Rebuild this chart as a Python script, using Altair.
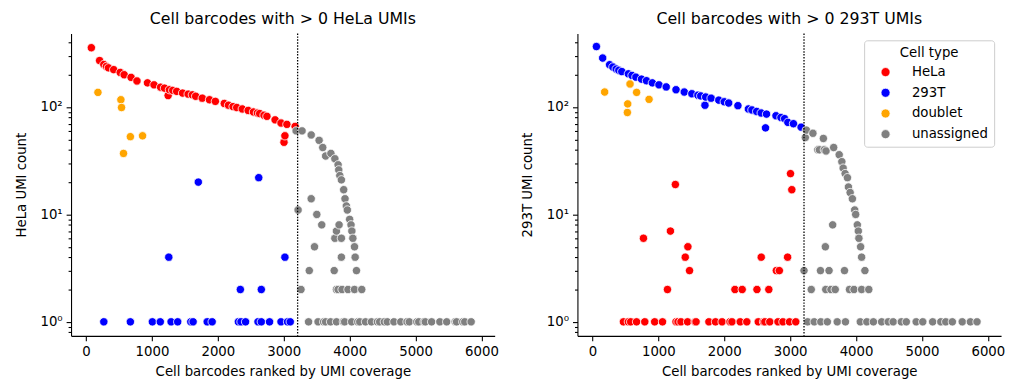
import altair as alt
import pandas as pd

CATS = ["HeLa", "293T", "doublet", "unassigned"]
COLORS = ["#ff0000", "#0000ff", "#ffa500", "#808080"]
X_TICKS = [0, 1000, 2000, 3000, 4000, 5000, 6000]
Y_TICKS = [0.8, 0.9, 1, 2, 3, 4, 5, 6, 7, 8, 9, 10, 20, 30, 40, 50, 60, 70, 80, 90,
           100, 200, 300, 400]
SPLIT_RANK = 3210

# ---------------- Panel 1: HeLa UMIs ----------------
p1_hela_rank = [80, 205, 269, 309, 340, 419, 518, 578, 683, 772, 932, 1031, 1131, 1190,
                1245, 1265, 1315, 1375, 1464, 1549, 1613, 1663, 1763, 1873, 1962, 2097,
                2161, 2230, 2286, 2370, 2460, 2540, 2600, 2634, 2700, 2744, 2868, 2958,
                3003, 3017, 3047, 3172]
p1_hela_umi = [357, 271, 249, 239, 232, 223, 210, 200, 189, 175, 168, 161, 153, 150,
               128, 145, 143, 140, 135, 132, 130, 126, 121, 117, 113, 108,
               104, 101, 99, 96, 93, 90, 88, 87, 84, 82, 76, 71,
               47, 54, 69, 66]

p1_293t_rank = [1255, 1703, 2341, 2620, 2659, 3017]
p1_293t_umi = [4, 20, 2, 22, 2, 4]
p1_293t_rank_one = [269, 672, 1006, 1126, 1290, 1390, 1589, 1624, 1838, 1913, 2311, 2351,
                    2420, 2609, 2659, 2784, 2958, 3057, 3098]

p1_doublet_rank = [180, 528, 538, 568, 672, 857]
p1_doublet_umi = [137, 117, 99, 37, 53, 54]

p1_unas_rank = [3187, 3277, 3416, 3536, 3591, 3635, 3715, 3775, 3824, 3834, 3850, 3874,
                3909, 3929, 3949, 3964, 3999, 4020, 4033, 4048, 4073, 4083, 4103,
                3217, 3416, 3501, 3576, 3466, 3387, 3765, 3839, 3799, 3775, 3874, 3874,
                3261, 3799, 3824, 3884, 3974, 4073, 4183]
p1_unas_umi = [60, 60, 55, 49, 42, 35, 37, 33, 29, 26, 23, 21,
               17, 14, 12, 11, 9, 8, 7, 6, 5, 4, 3,
               11, 14, 10, 8, 5, 3, 3, 8, 7, 6, 6, 4,
               2, 2, 2, 2, 2, 2, 2]
p1_unas_rank_one = [3376, 3520, 3605, 3635, 3710, 3800, 3904, 3924, 4030, 4123, 4153, 4240,
                    4330, 4421, 4455, 4526, 4571, 4671, 4775, 4870, 4905, 5019, 5048, 5129,
                    5148, 5243, 5368, 5472, 5601, 5622, 5716, 5746, 5843]

# ---------------- Panel 2: 293T UMIs ----------------
p2_293t_rank = [60, 155, 260, 310, 360, 400, 445, 545, 600, 659, 744, 820, 909, 1009,
                1119, 1268, 1393, 1508, 1600, 1643, 1707, 1718, 1800, 1917, 2000, 2067,
                2207, 2366, 2420, 2492, 2560, 2626, 2641, 2785, 2860, 2916, 2965, 3050,
                3166]
p2_293t_umi = [366, 286, 248, 236, 226, 220, 214, 204, 197, 190, 182, 176, 168, 161,
               154, 145, 138, 133, 129, 127, 104, 124, 121, 116, 112, 109,
               103, 96, 94, 91, 88, 64, 86, 83, 80, 78, 72, 70,
               65]

p2_doublet_rank = [185, 530, 535, 570, 670, 859]
p2_doublet_umi = [138, 89, 107, 164, 137, 118]

p2_hela_rank = [774, 1138, 1183, 1258, 1408, 1448, 1473, 2162, 2272, 2496, 2561, 2676,
                2790, 2836, 2961, 3005, 3025]
p2_hela_umi = [6, 2, 7, 19, 4, 5, 3, 2, 2, 2, 4, 2,
               3, 3, 4, 24, 17]
p2_hela_rank_one = [470, 545, 580, 669, 794, 944, 1063, 1268, 1298, 1343, 1443, 1557,
                    1572, 1767, 1867, 1967, 2087, 2117, 2242, 2342, 2516, 2596, 2616,
                    2691, 2815, 2890, 2990, 3085]

p2_unas_rank = [3230, 3245, 3345, 3420, 3444, 3504, 3519, 3544, 3660, 3744, 3784, 3804,
                3834, 3869, 3884, 3910, 3944, 3979, 3994, 4019, 4034, 4043, 4069, 4084,
                4134, 3645, 3534,
                3210, 3460, 3590, 3824,
                3320, 3540, 3619, 3684, 3900, 3969, 4084, 4193]
p2_unas_umi = [52, 61, 57, 40, 40, 51, 40, 39, 42, 36, 31, 27,
               24, 22, 18, 16, 14, 11, 10, 8, 7, 6, 5, 4,
               3, 8, 5,
               3, 3, 3, 3,
               2, 2, 2, 2, 2, 2, 2, 2]
p2_unas_rank_one = [3265, 3365, 3465, 3564, 3714, 3839, 4064, 4163, 4263, 4388, 4488,
                    4563, 4687, 4762, 4912, 5012, 5162, 5286, 5361, 5461, 5611, 5735, 5835]


def frame(groups):
    rows = []
    for cat, ranks, umis in groups:
        for r, u in zip(ranks, umis):
            rows.append({"rank": r, "umi": u, "type": cat})
    return pd.DataFrame(rows).sort_values("rank", kind="stable").reset_index(drop=True)


df1 = frame([
    ("HeLa", p1_hela_rank, p1_hela_umi),
    ("293T", p1_293t_rank, p1_293t_umi),
    ("293T", p1_293t_rank_one, [1] * len(p1_293t_rank_one)),
    ("doublet", p1_doublet_rank, p1_doublet_umi),
    ("unassigned", p1_unas_rank, p1_unas_umi),
    ("unassigned", p1_unas_rank_one, [1] * len(p1_unas_rank_one)),
])
df2 = frame([
    ("293T", p2_293t_rank, p2_293t_umi),
    ("HeLa", p2_hela_rank, p2_hela_umi),
    ("HeLa", p2_hela_rank_one, [1] * len(p2_hela_rank_one)),
    ("doublet", p2_doublet_rank, p2_doublet_umi),
    ("unassigned", p2_unas_rank, p2_unas_umi),
    ("unassigned", p2_unas_rank_one, [1] * len(p2_unas_rank_one)),
])

FONT = "DejaVu Sans"
MAJOR = "datum.value == 1 || datum.value == 10 || datum.value == 100"


def panel(df, title, ytitle, show_legend):
    if show_legend:
        legend = alt.Legend(
            title="Cell type", orient="none", legendX=291, legendY=7,
            direction="vertical",
            titleFontSize=13.5, titleFontWeight="normal", titleFont=FONT,
            titleColor="black", titleAnchor="middle", titleAlign="center",
            titlePadding=6, labelFontSize=13.5, labelFont=FONT, labelColor="black",
            labelOffset=20, rowPadding=6, symbolType="circle", symbolSize=85,
            symbolStrokeColor="white", symbolStrokeWidth=0.8, symbolOpacity=1,
            symbolOffset=9, padding=6, strokeColor="#cccccc", fillColor="white",
            cornerRadius=3,
        )
    else:
        legend = None
    pts = alt.Chart(df).mark_circle(
        size=72, opacity=1, stroke="white", strokeWidth=0.8
    ).encode(
        x=alt.X("rank:Q",
                scale=alt.Scale(domain=[-228, 6200], nice=False, zero=False),
                axis=alt.Axis(values=X_TICKS, title="Cell barcodes ranked by UMI coverage",
                              grid=False, labelFlush=False, format="d", titlePadding=7)),
        y=alt.Y("umi:Q",
                scale=alt.Scale(type="log", domain=[0.74, 485], nice=False),
                axis=alt.Axis(values=Y_TICKS, title=ytitle, grid=False,
                              labelOverlap=False, labelPadding=4, titlePadding=12,
                              labelExpr="datum.value == 1 ? '10⁰' : datum.value == 10 ? '10¹' : datum.value == 100 ? '10²' : ''",
                              tickSize={"condition": {"test": MAJOR, "value": 5}, "value": 3})),
        color=alt.Color("type:N", scale=alt.Scale(domain=CATS, range=COLORS), legend=legend),
        order=alt.Order("rank:Q"),
    )
    rule = alt.Chart(pd.DataFrame({"rank": [SPLIT_RANK]})).mark_rule(
        color="black", strokeDash=[1.5, 1.5], strokeWidth=1.3
    ).encode(x="rank:Q")
    return alt.layer(pts, rule).properties(
        width=430, height=307,
        title=alt.TitleParams(title, fontSize=16, fontWeight="normal", font=FONT,
                              anchor="middle", color="black", offset=6),
    )


left = panel(df1, "Cell barcodes with > 0 HeLa UMIs", "HeLa UMI count", False)
right = panel(df2, "Cell barcodes with > 0 293T UMIs", "293T UMI count", True)

chart = alt.hconcat(left, right, spacing=22).resolve_scale(
    color="independent"
).resolve_legend(color="independent").configure(
    padding={"left": 6, "top": 0, "right": 0, "bottom": 0}, font=FONT
).configure_view(stroke=None).configure_axis(
    domainColor="black", domainWidth=1.1, tickColor="black", tickWidth=1.1,
    labelColor="black", titleColor="black", labelFont=FONT, titleFont=FONT,
    labelFontSize=13.5, titleFontSize=13.5, titleFontWeight="normal",
    labelPadding=3.5, titlePadding=5,
)

chart.save("out.html", embed_options={"renderer": "svg", "actions": False})
